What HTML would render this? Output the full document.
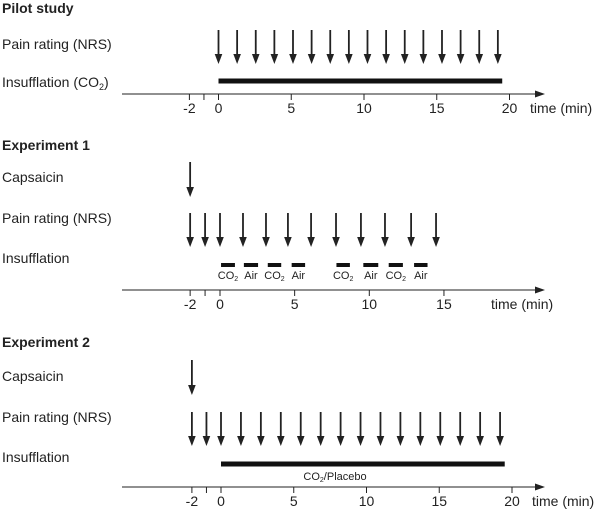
<!DOCTYPE html>
<html><head><meta charset="utf-8"><style>
body{margin:0;background:#fff}
svg{display:block;font-family:"Liberation Sans",Arial,sans-serif}
</style></head><body>
<svg id="c" width="600" height="509" viewBox="0 0 600 509">
</svg>
<script>
const tickTimes=[-2,-1,0,5,10,15,20];
const tickLabels=["-2","","0","5","10","15","20"];
const exp1TickTimes=[-2,-1,0,5,10,15];
const exp1TickLabels=["-2","","0","5","10","15"];
const pilotPain=[0,1.28,2.56,3.84,5.12,6.4,7.68,8.96,10.24,11.52,12.8,14.08,15.36,16.64,17.92,19.2];
const pilotBar=[[0,19.5]];
const exp1Pain=[-2,-1,0,1.54,3.08,4.55,6.1,7.77,9.44,11.05,12.8,14.47];
const exp1Bars=[[0.07,1.0],[1.6,2.55],[3.2,4.1],[4.8,5.7],[7.8,8.7],[9.6,10.6],[11.3,12.25],[13.0,13.9]];
const exp1BarLabels=["CO2","Air","CO2","Air","CO2","Air","CO2","Air"];
const exp2Pain=[-2,-1,0,1.37,2.74,4.11,5.48,6.85,8.22,9.59,10.96,12.33,13.7,15.07,16.44,17.81,19.18];
const exp2Bar=[[0,19.5]];
const capsaicin=[-2];

const svg=document.getElementById('c');
const NS='http://www.w3.org/2000/svg';
function mk(tag,attrs,txt){const e=document.createElementNS(NS,tag);for(const k in attrs)e.setAttribute(k,attrs[k]);if(txt!==undefined)e.textContent=txt;svg.appendChild(e);return e;}
function scale(x0,pxPerMin){return t=>x0+pxPerMin*t;}
function label(txt,y,bold,name){const e=mk('text',{x:2,y:y,'font-size':14,'font-weight':bold?'bold':'normal',fill:'#222'});


if(txt.indexOf('CO2')>=0){e.textContent=txt.replace('CO2)','CO');const s=document.createElementNS(NS,'tspan');s.setAttribute('font-size',9);s.setAttribute('dy',3);s.textContent='2';e.appendChild(s);const s2=document.createElementNS(NS,'tspan');s2.setAttribute('dy',-3);s2.textContent=')';e.appendChild(s2);}else e.textContent=txt;}
function axis(x,y,timeX,name,tt_,tl_){
 const l=mk('line',{x1:122,y1:y,x2:538,y2:y,stroke:'#222','stroke-width':1});
 
 
 const a=mk('path',{d:`M535,${y-3.5} L545,${y} L535,${y+3.5} Z`,fill:'#222'});
 
 
 tt_.forEach((t,i)=>{const tx=x(t);
  const tk=mk('line',{x1:tx,y1:y,x2:tx,y2:y+6,stroke:'#222','stroke-width':1});
  
  
  if(tl_[i]){const tl=mk('text',{x:tx,y:y+19,'font-size':14,'text-anchor':'middle',fill:'#222'},tl_[i]);
  
  }
 });
 const tt=mk('text',{x:timeX,y:y+19,'font-size':14,fill:'#222'},'time (min)');
 
 
}
function arrows(x,times,y1,y2,name){times.forEach(t=>{const ax=x(t);
 const a=mk('line',{x1:ax,y1:y1,x2:ax,y2:y2-8,stroke:'#222','stroke-width':1.8});
 
 
 const h=mk('path',{d:`M${ax-3.8},${y2-10} L${ax},${y2} L${ax+3.8},${y2-10} Z`,fill:'#222'});
 
 });}
function bars(x,list,y,h,name){list.forEach(b=>{const r=mk('rect',{x:x(b[0]),y:y-h/2,width:x(b[1])-x(b[0]),height:h,fill:'#111'});
 
 });}

// Pilot
const xp=scale(218.5,14.55);
label('Pilot study',13,true,'pilot-study-title');
label('Pain rating (NRS)',49,false,'pilot-pain-rating-label');
label('Insufflation (CO2)',87,false,'pilot-insufflation-label');
arrows(xp,pilotPain,30,64,'pilot-pain-arrow');
bars(xp,pilotBar,81,5,'pilot-co2-bar');
axis(xp,94,530,'pilot',tickTimes,tickLabels);

// Experiment 1
const x1=scale(220,14.93);
label('Experiment 1',150,true,'experiment1-title');
label('Capsaicin',182,false,'exp1-capsaicin-label');
label('Pain rating (NRS)',223,false,'exp1-pain-rating-label');
label('Insufflation',263,false,'exp1-insufflation-label');
arrows(x1,capsaicin,162,197,'exp1-capsaicin-arrow');
arrows(x1,exp1Pain,213,247,'exp1-pain-arrow');
bars(x1,exp1Bars,265,4,'exp1-insufflation-bar');
exp1Bars.forEach((b,i)=>{const cx=(x1(b[0])+x1(b[1]))/2;const t=exp1BarLabels[i];
 const e=mk('text',{x:cx,y:279,'font-size':11,'text-anchor':'middle',fill:'#222'});
 
 
 if(t==='CO2'){e.textContent='CO';const s=document.createElementNS(NS,'tspan');s.setAttribute('font-size',7);s.setAttribute('dy',2);s.textContent='2';e.appendChild(s);}else e.textContent=t;});
axis(x1,290,491,'exp1',exp1TickTimes,exp1TickLabels);

// Experiment 2
const x2=scale(221,14.55);
label('Experiment 2',347,true,'experiment2-title');
label('Capsaicin',381,false,'exp2-capsaicin-label');
label('Pain rating (NRS)',422,false,'exp2-pain-rating-label');
label('Insufflation',462,false,'exp2-insufflation-label');
arrows(x2,capsaicin,360,395,'exp2-capsaicin-arrow');
arrows(x2,exp2Pain,412,446,'exp2-pain-arrow');
bars(x2,exp2Bar,464,5,'exp2-co2-placebo-bar');
const pl=mk('text',{x:335,y:480,'font-size':11,'text-anchor':'middle',fill:'#222'});


pl.textContent='CO';
const s=document.createElementNS(NS,'tspan');s.setAttribute('font-size',7);s.setAttribute('dy',2);s.textContent='2';pl.appendChild(s);
const s2=document.createElementNS(NS,'tspan');s2.setAttribute('dy',-2);s2.textContent='/Placebo';pl.appendChild(s2);
axis(x2,487,532,'exp2',tickTimes,tickLabels);
</script>
</body></html>
